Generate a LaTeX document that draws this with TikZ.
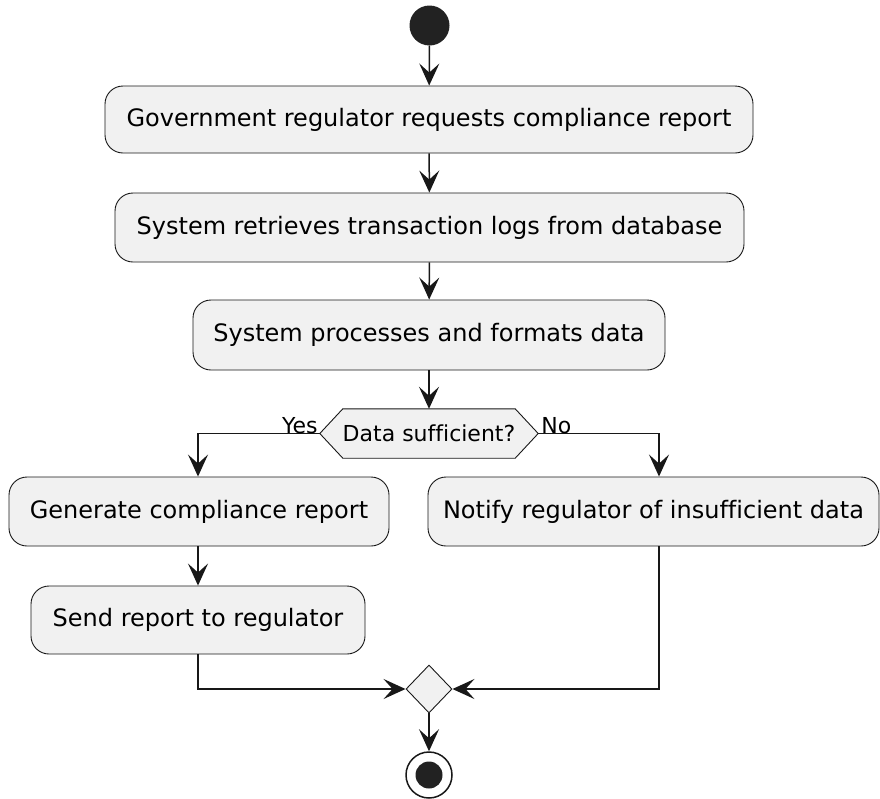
\documentclass[tikz,border=0pt]{standalone}
\usepackage{fontspec}
\setmainfont{DejaVu Sans}[Ligatures={NoCommon}]
\usetikzlibrary{arrows.meta,shapes.geometric,backgrounds}
\definecolor{boxfill}{HTML}{F1F1F1}
\definecolor{ink}{HTML}{181818}
\definecolor{dot}{HTML}{222222}
% keeps f, f and i as separate glyphs
\newcommand{\sep}{\kern0pt}
\tikzset{
  action/.style={draw=ink, line width=0.9pt, fill=boxfill, rounded corners=18pt,
    inner sep=0pt, font=\fontsize{24}{28}\selectfont},
  flow/.style={draw=ink, line width=1.5pt, -{Stealth[length=22pt,width=20pt,inset=9pt]}},
  guard/.style={font=\fontsize{22}{26}\selectfont, inner sep=0pt},
  merge/.style={diamond, draw=ink, line width=0.9pt, fill=boxfill, inner sep=0pt,
    minimum width=46pt, minimum height=48pt},
}
\begin{document}
\begin{tikzpicture}[x=1pt,y=-1pt]
\useasboundingbox (0,0) rectangle (880,798);

% start
\node[circle, fill=dot, minimum size=40pt, inner sep=0pt] (start) at (429.5,25.5) {};

% main sequence
\node[action, minimum width=648pt, minimum height=67pt] (req) at (429,119.5)
  {Government regulator requests compliance report};
\node[action, minimum width=629pt, minimum height=69pt] (logs) at (429.5,227.5)
  {System retrieves transaction logs from database};
\node[action, minimum width=472pt, minimum height=70pt] (proc) at (429,335)
  {System processes and formats data};

% decision
\node[minimum width=218pt, minimum height=49pt, inner sep=0pt,
      font=\fontsize{22}{26}\selectfont] (dec) at (429,433.5) {Data suf\sep f\sep icient?};
\begin{scope}[on background layer]
\draw[draw=ink, line width=0.9pt, fill=boxfill]
  (dec.west) -- ([xshift=23pt]dec.north west) -- ([xshift=-23pt]dec.north east)
  -- (dec.east) -- ([xshift=-23pt]dec.south east) -- ([xshift=23pt]dec.south west) -- cycle;
\end{scope}

% branches
\node[action, minimum width=380pt, minimum height=69pt] (gen) at (199,511.5)
  {Generate compliance report};
\node[action, minimum width=334pt, minimum height=68pt] (send) at (198,620)
  {Send report to regulator};
\node[action, minimum width=451pt, minimum height=69pt] (notify) at (653.5,511.5)
  {Notify regulator of insuf\sep f\sep icient data};

% merge and stop
\node[merge] (join) at (429,689) {};
\node[circle, draw=ink, line width=1.5pt, fill=white, minimum size=46pt, inner sep=0pt] (stop) at (429,775) {};
\node[circle, fill=dot, minimum size=27pt, inner sep=0pt] at (stop.center) {};

% connectors
\draw[flow] (start) -- (req);
\draw[flow] (req) -- (logs);
\draw[flow] (logs) -- (proc);
\draw[flow] (proc.south) -- (dec.north);
\draw[flow] (dec.west) -| (gen.north -| send.north);
\draw[flow] (dec.east) -| ([xshift=5.5pt]notify.north);
\draw[flow] (gen.south -| send.north) -- (send.north);
\draw[flow] (send.south) |- (join.west);
\draw[flow] ([xshift=5.5pt]notify.south) |- (join.east);
\draw[flow] (join.south) -- (stop.north);

% guard labels
\node[guard, anchor=south east] (yes) at ([xshift=-2pt,yshift=-1pt]dec.west) {Yes};
\node[guard, anchor=south west] (no) at ([xshift=3pt,yshift=-1pt]dec.east) {No};
\end{tikzpicture}
\end{document}
